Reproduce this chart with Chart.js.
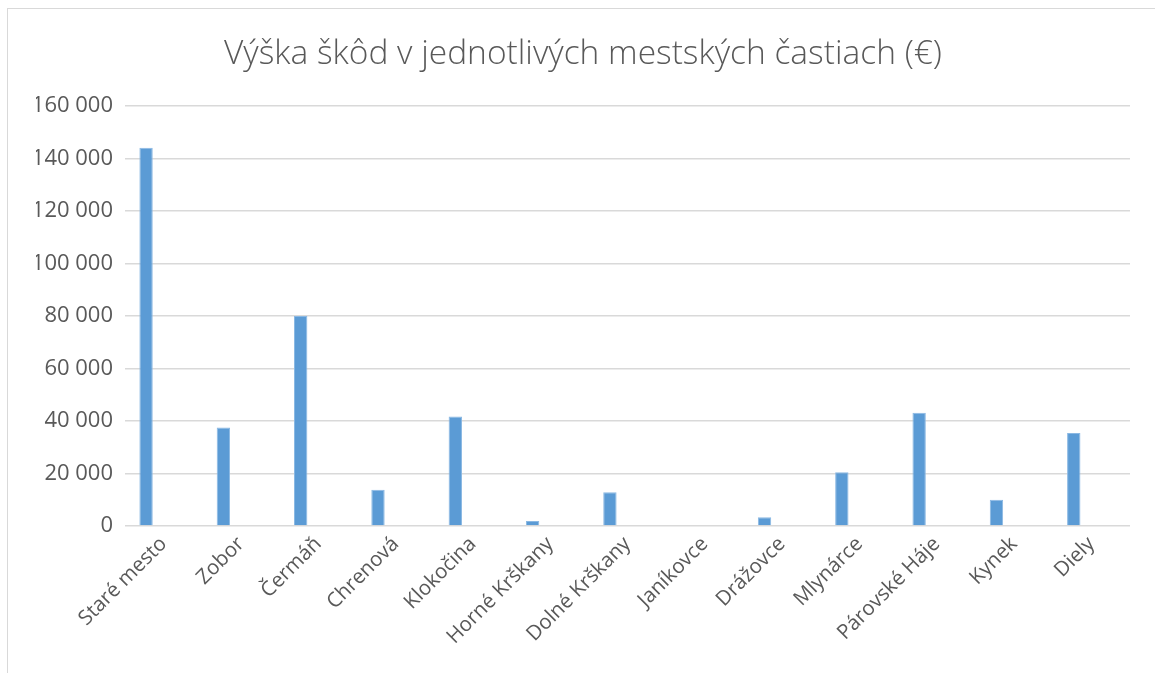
<!DOCTYPE html>
<html>
<head>
<meta charset="utf-8">
<script src="https://cdn.jsdelivr.net/npm/chart.js@4"></script>
<style>
  html, body { margin: 0; padding: 0; background: #fff; }
  #frame {
    position: absolute; left: 7px; top: 8px; width: 1160px; height: 680px;
    border: 1px solid #d9d9d9; box-sizing: border-box;
  }
  #wrap { position: absolute; left: 0; top: 0; width: 1155px; height: 673px; }
</style>
</head>
<body>
<div id="frame"></div>
<div id="wrap"><canvas id="skody"></canvas></div>
<script>
// mestske casti a vyska skod v eurach
const districts = [
  "Staré mesto", "Zobor", "Čermáň", "Chrenová", "Klokočina", "Horné Krškany",
  "Dolné Krškany", "Janíkovce", "Drážovce", "Mlynárce", "Párovské Háje", "Kynek", "Diely"
];
const damages = [144200, 37500, 80000, 13800, 41700, 1900, 12900, 0, 3300, 20500, 43200, 10000, 35400];
// druha rada v povodnom grafe je prazdna
const emptySeries = [null, null, null, null, null, null, null, null, null, null, null, null, null];

const yTicks = [0, 20000, 40000, 60000, 80000, 100000, 120000, 140000, 160000];

const textColor = "#595959";
const fontFamily = "'Open Sans', 'DejaVu Sans', sans-serif";

const fmt = (v) => String(v).replace(/\B(?=(\d{3})+(?!\d))/g, " ");

new Chart(document.getElementById("skody"), {
  type: "bar",
  data: {
    labels: districts,
    datasets: [
      {
        label: "Škody",
        data: damages,
        backgroundColor: "#5b9bd5",
        borderColor: "#8ab8e3",
        borderWidth: { top: 1, left: 1, right: 1, bottom: 0 },
        barPercentage: 0.38,
        categoryPercentage: 0.91,
      },
      {
        label: "",
        data: emptySeries,
        backgroundColor: "#5b9bd5",
        barPercentage: 0.38,
        categoryPercentage: 0.91,
      },
    ],
  },
  options: {
    responsive: true,
    maintainAspectRatio: false,
    animation: false,
    layout: { padding: { left: 36, right: 25, top: 0, bottom: 0 } },
    plugins: {
      legend: { display: false },
      tooltip: { enabled: false },
      title: {
        display: true,
        text: "Výška škôd v jednotlivých mestských častiach (€)",
        color: textColor,
        font: { family: fontFamily, size: 33.5, weight: "300" },
        padding: { top: 34, bottom: 32 },
      },
    },
    scales: {
      x: {
        grid: { display: false, drawTicks: false },
        border: { display: false },
        ticks: {
          color: textColor,
          font: { family: fontFamily, size: 20.5 },
          minRotation: 45,
          maxRotation: 45,
          padding: 6,
        },
        afterFit: (scale) => { scale.height = 147; },
      },
      y: {
        min: 0,
        max: 160000,
        afterBuildTicks: (scale) => { scale.ticks = yTicks.map((v) => ({ value: v })); },
        grid: { color: "#d9d9d9", lineWidth: 1.5, drawTicks: false },
        border: { display: false },
        ticks: {
          color: textColor,
          font: { family: fontFamily, size: 22 },
          padding: 12,
          callback: (v) => fmt(v),
        },
        afterFit: (scale) => { scale.width = 89; },
      },
    },
  },
});
</script>
</body>
</html>
